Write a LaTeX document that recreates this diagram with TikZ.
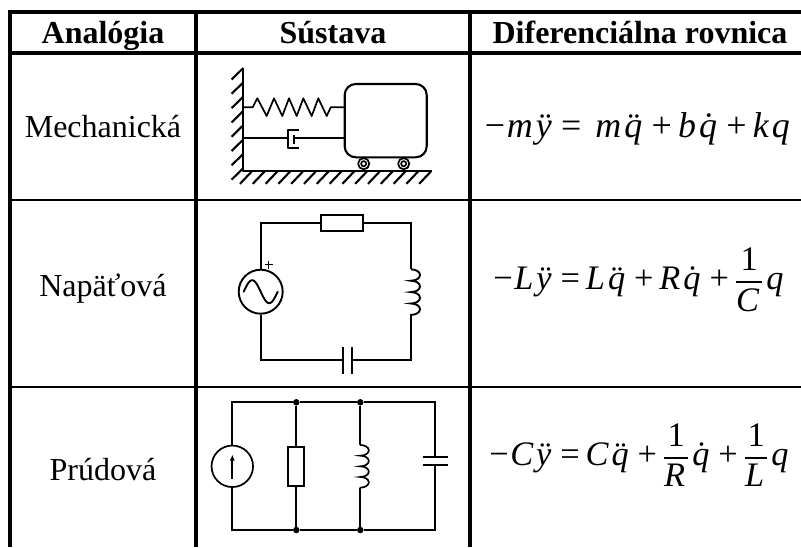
\documentclass[tikz,border=0pt]{standalone}
\usepackage{graphicx}
\usepackage{amsmath}
\usepackage{fontspec}
\setmainfont{Liberation Serif}
\usetikzlibrary{arrows.meta}
\newcommand{\vr}[1]{\text{\normalfont\itshape #1}\mkern2mu}
\newcommand{\acc}[2]{\text{\normalfont\makebox[0pt][l]{\hspace{0.1em}#1}\itshape #2}\mkern2mu}
\newcommand{\ddq}{\acc{\char"A8}{q}}
\newcommand{\ddy}{\acc{\char"A8}{y}}
\newcommand{\dq}{\acc{\char"2D9}{q}}
\newcommand{\opr}[1]{\mkern4mu\text{\normalfont #1}\mkern4mu}
\newcommand{\orel}{\mkern4mu\text{\normalfont =}\mkern4mu}
\newcommand{\omin}{\text{\normalfont −}\mkern1mu}
\newcommand{\fr}[2]{\genfrac{}{}{1.6pt}{0}{\text{\normalfont #1}}{\vr{#2}}\mkern2mu}
\tikzset{
  rule/.style={line width=4pt,black},
  thinrule/.style={line width=2pt,black},
  head/.style={anchor=base,inner sep=0pt,font=\fontsize{32}{38}\selectfont\bfseries},
  rowlabel/.style={anchor=base,inner sep=0pt,font=\fontsize{32}{38}\selectfont},
  eqn/.style={anchor=base,inner sep=0pt,font=\fontsize{32}{38}\selectfont},
  mech/.style={line width=2.1pt,black,line join=round},
  mechthin/.style={line width=1.7pt,black,line join=round},
  wire/.style={line width=1.9pt,black,line join=miter},
  wirethin/.style={line width=1.7pt,black},
  resistor/.style={draw,line width=1.9pt,fill=white,inner sep=0pt},
  jn/.style={circle,fill=black,inner sep=0pt,minimum size=6.5pt},
  source/.style={circle,draw,line width=1.9pt,fill=white,inner sep=0pt}
}
\begin{document}
\begin{tikzpicture}[x=1pt,y=-1pt]
\useasboundingbox (0,0) rectangle (801,547);
\fill[white] (0,0) rectangle (801,547);
% table rules
\draw[rule] (8,12) -- (801,12);
\draw[rule] (8,53) -- (801,53);
\draw[thinrule] (10,200) -- (801,200);
\draw[thinrule] (10,387) -- (801,387);
\draw[rule] (10,10) -- (10,547);
\draw[rule] (196,10) -- (196,547);
\draw[rule] (470,10) -- (470,547);
% texts
\node[head] (h1) at (103,43) {Analógia};
\node[head] (h2) at (333,43) {Sústava};
\node[head] (h3) at (640,43) {Diferenciálna rovnica};
\node[rowlabel] (r1) at (103,137) {Mechanická};
\node[rowlabel] (r2) at (103,296) {Napäťová};
\node[rowlabel] (r3) at (103,480) {Prúdová};
\node[eqn] (e1) at (639,137) {\resizebox{308pt}{!}{$\omin\vr{m}\ddy\orel\;\vr{m}\ddq\opr{+}\vr{b}\dq\opr{+}\vr{k}\vr{q}$}};
\node[eqn] (e2) at (640,289) {\resizebox{293pt}{!}{$\displaystyle \omin\vr{L}\ddy\orel\vr{L}\ddq\opr{+}\vr{R}\dq\opr{+}\fr{1}{C}\vr{q}$}};
\node[eqn] (e3) at (640.5,465) {\resizebox{302pt}{!}{$\displaystyle \omin\vr{C}\ddy\orel\vr{C}\ddq\opr{+}\fr{1}{R}\dq\opr{+}\fr{1}{L}\vr{q}$}};
% mechanical system
\draw[mech] (243.3,68) -- (243.3,171) -- (432,171);
\foreach \i in {0,...,7} \draw[mech] (243.3,{68+14.3*\i}) -- ++(-11.7,11.5);
\foreach \i in {0,...,14} \draw[mech] ({251.7+12.8*\i},171.5) -- ++(-11.7,12.3);
\draw[mech,rounded corners=11pt] (344.7,84) rectangle (426.7,157.3);
\draw[mechthin] (243.3,107.3) -- (252.7,107.3) -- (257.3,98.3) -- (266.7,116) -- (274,98.3) -- (282.3,116) -- (289,98.3) -- (296.7,116) -- (303.3,98.3) -- (311.7,116) -- (318.3,98.3) -- (326.7,116) -- (330.7,107.3) -- (344.7,107.3);
\draw[mechthin] (243.3,138.3) -- (287.5,138.3);
\draw[mechthin] (298.7,130.3) -- (288,130.3) -- (288,148.3) -- (298.7,148.3);
\draw[mechthin] (294,135) -- (294,144);
\draw[mechthin] (294,138.3) -- (344.7,138.3);
\foreach \cx in {363.7,403.7} {
  \draw[mechthin] (\cx,163.7) circle[radius=5.6pt];
  \draw[mechthin] (\cx,163.7) circle[radius=2.6pt];
}
% voltage analogy circuit
\node[resistor,minimum width=42.3pt,minimum height=16pt] (R2) at (341.8,223.3) {};
\node[source,minimum size=44pt] (V2) at (260.7,291.7) {};
\coordinate (tl2) at (260.7,223.3);
\coordinate (tr2) at (411,223.3);
\coordinate (ls2) at (411,269.3);
\coordinate (le2) at (411,315);
\coordinate (br2) at (411,360);
\coordinate (bl2) at (260.7,360);
\coordinate (c2a) at (342.7,360);
\coordinate (c2b) at (352,360);
\draw[wire] (V2) -- (tl2) -- (R2);
\draw[wire] (R2) -- (tr2) -- (ls2);
\draw[wire] (ls2) arc[start angle=90,end angle=-90,x radius=9pt,y radius=5.7pt]
  arc[start angle=90,end angle=-90,x radius=9pt,y radius=5.7pt]
  arc[start angle=90,end angle=-90,x radius=9pt,y radius=5.7pt]
  arc[start angle=90,end angle=-90,x radius=9pt,y radius=5.7pt] -- (le2);
\draw[wire] (le2) -- (br2) -- (c2b);
\draw[wire] (V2) -- (bl2) -- (c2a);
\draw[wire] (342.7,347.3) -- (342.7,374);
\draw[wire] (352,347.3) -- (352,374);
\draw[wire,line cap=round] plot[domain=0:360,samples=40] ({260.7+(\x-180)*17/180},{291.7-11.5*sin(\x)});
\draw[line width=1.4pt] (264.7,264.7) -- (272.7,264.7) (268.7,260.7) -- (268.7,268.7);
% current analogy circuit
\node[resistor,minimum width=16pt,minimum height=39pt] (R3) at (296.3,466.2) {};
\node[source,line width=1.7pt,minimum size=41.5pt] (I3) at (232.3,466.3) {};
\node[jn] (j1) at (296.3,402.3) {};
\node[jn] (j2) at (360.3,402.3) {};
\node[jn] (j3) at (296.3,530) {};
\node[jn] (j4) at (360.3,530) {};
\coordinate (tl3) at (232.3,402.3);
\coordinate (tr3) at (435.3,402.3);
\coordinate (bl3) at (232.3,530);
\coordinate (br3) at (435.3,530);
\coordinate (c3a) at (435.3,456.7);
\coordinate (c3b) at (435.3,465.3);
\coordinate (l3a) at (360.3,445);
\coordinate (l3b) at (360.3,487.7);
\draw[wirethin] (I3) -- (tl3) -- (j1) -- (j2) -- (tr3) -- (c3a);
\draw[wirethin] (I3) -- (bl3) -- (j3) -- (j4) -- (br3) -- (c3b);
\draw[wirethin] (j1) -- (R3);
\draw[wirethin] (R3) -- (j3);
\draw[wirethin] (j2) -- (l3a);
\draw[wirethin] (l3a) arc[start angle=90,end angle=-90,x radius=8.5pt,y radius=5.33pt]
  arc[start angle=90,end angle=-90,x radius=8.5pt,y radius=5.33pt]
  arc[start angle=90,end angle=-90,x radius=8.5pt,y radius=5.33pt]
  arc[start angle=90,end angle=-90,x radius=8.5pt,y radius=5.33pt] -- (l3b);
\draw[wirethin] (l3b) -- (j4);
\draw[wire] (422.7,456.7) -- (447.7,456.7);
\draw[wire] (422.7,465.3) -- (447.7,465.3);
\draw[wirethin,-{Latex[length=6pt,width=5pt]}] (232.3,478.5) -- (232.3,454.5);
\end{tikzpicture}
\end{document}
